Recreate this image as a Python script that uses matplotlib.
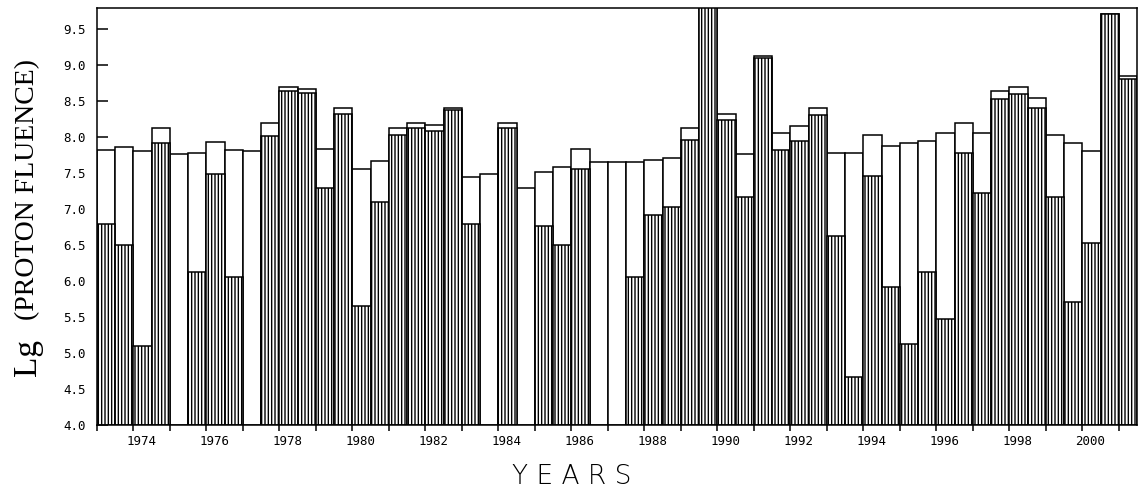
import numpy as np
import matplotlib
matplotlib.use("Agg")
import matplotlib.pyplot as plt
from matplotlib.transforms import ScaledTranslation

# half-year bins starting 1973.0
bin_start = [1973.0 + 0.5 * i for i in range(57)]

total_fluence = [7.82, 7.86, 7.80, 8.13, 7.76, 7.78, 7.93, 7.82, 7.80, 8.20,
                 8.69, 8.67, 7.83, 8.40, 7.55, 7.66, 8.13, 8.20, 8.16, 8.40,
                 7.44, 7.49, 8.20, 7.29, 7.51, 7.58, 7.83, 7.65, 7.65, 7.65,
                 7.68, 7.71, 8.13, 9.90, 8.32, 7.76, 9.13, 8.05, 8.15, 8.40,
                 7.78, 7.78, 8.03, 7.88, 7.92, 7.95, 8.05, 8.20, 8.05, 8.64,
                 8.69, 8.54, 8.03, 7.92, 7.80, 9.70, 8.84]

event_fluence = [6.79, 6.50, 5.10, 7.91, np.nan, 6.13, 7.49, 6.05, np.nan, 8.01,
                 8.64, 8.61, 7.29, 8.32, 5.65, 7.10, 8.03, 8.13, 8.08, 8.37,
                 6.79, np.nan, 8.13, np.nan, 6.77, 6.50, 7.56, np.nan, np.nan, 6.06,
                 6.92, 7.02, 7.96, 9.90, 8.23, 7.16, 9.10, 7.82, 7.95, 8.30,
                 6.63, 4.66, 7.46, 5.91, 5.13, 6.13, 5.47, 7.78, 7.22, 8.52,
                 8.59, 8.40, 7.17, 5.71, 6.53, 9.70, 8.81]

label_years = list(range(1974, 2001, 2))
minor_years = list(range(1973, 2002, 2))
y_ticks = [4.0 + 0.5 * k for k in range(12)]

BASE = 4.0
plt.rcParams['hatch.linewidth'] = 1.0
plt.rcParams['hatch.color'] = 'black'

fig = plt.figure(figsize=(11.4, 4.92), dpi=100)
ax = fig.add_axes([97 / 1140, 1 - 425 / 492, (1137 - 97) / 1140, (425 - 8) / 492])

x = np.array(bin_start)
tot = np.array(total_fluence)
evt = np.array(event_fluence)

ax.bar(x, tot - BASE, bottom=BASE, width=0.5, align='edge',
       facecolor='white', edgecolor='black', linewidth=1.1, zorder=2)
ax.bar(x, evt - BASE, bottom=BASE, width=0.5, align='edge',
       facecolor='white', edgecolor='black', linewidth=1.1, hatch='|||||', zorder=3)

ax.set_xlim(1973.0, 2001.5)
ax.set_ylim(4.0, 9.79)

for s in ax.spines.values():
    s.set_linewidth(1.1)
    s.set_color('black')
    s.set_zorder(5)

ax.set_yticks(y_ticks)
ax.set_yticklabels([f"{v:.1f}" for v in y_ticks], family='DejaVu Sans Mono', fontsize=9)
ax.tick_params(axis='y', direction='in', length=8, width=1.1, pad=8, left=True, right=False)

ax.set_xticks(label_years)
ax.set_xticklabels([str(y) for y in label_years], family='DejaVu Sans Mono', fontsize=9)
ax.set_xticks(minor_years, minor=True)
ax.tick_params(axis='x', which='both', direction='out', length=4, width=1.1, pad=3)
offset = ScaledTranslation(8 / 100, 0, fig.dpi_scale_trans)
for lab in ax.get_xticklabels():
    lab.set_transform(lab.get_transform() + offset)

# y-axis label: large "Lg" plus serif "(PROTON FLUENCE)"
fig.text(28 / 1140, 1 - 357 / 492, "Lg", rotation=90, ha='center', va='center',
         family='Liberation Serif', fontsize=24)
fig.text(28 / 1140, 1 - 190 / 492, "(PROTON FLUENCE)", rotation=90, ha='center', va='center',
         family='Liberation Serif', fontsize=20)

fig.text(572 / 1140, 1 - 477 / 492, "Y E A R S", ha='center', va='center',
         family='DejaVu Sans', fontsize=19, fontweight='light')

fig.savefig("out.png", dpi=100, facecolor='white')
